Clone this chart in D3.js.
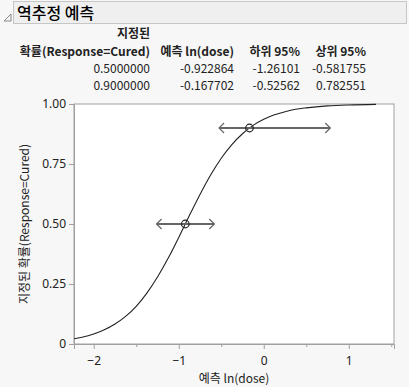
<!DOCTYPE html>
<html>
<head>
<meta charset="utf-8">
<script src="https://cdn.jsdelivr.net/npm/d3@7"></script>
<style>
  body { margin: 0; background: #f7f7f7; }
  text { font-family: "Noto Sans CJK KR", "Noto Sans", sans-serif; fill: #222; }
</style>
</head>
<body>
<svg id="chart" width="409" height="387"></svg>
<script>
// table values
const probs = ["0.5000000", "0.9000000"];
const predVals = [-0.922864, -0.167702];
const lowerVals = [-1.26101, -0.52562];
const upperVals = [-0.581755, 0.782551];
const pValues = [0.5, 0.9];

// fitted curve
const curveX = [-2.23, -2.125, -2, -1.875, -1.75, -1.625, -1.5, -1.375, -1.25, -1.125, -1, -0.875, -0.75, -0.625, -0.5, -0.375, -0.25, -0.125, 0, 0.125, 0.25, 0.375, 0.5, 0.75, 1, 1.32];
const curveP = [0.022, 0.029, 0.042, 0.059, 0.083, 0.115, 0.157, 0.212, 0.279, 0.357, 0.444, 0.535, 0.623, 0.704, 0.774, 0.831, 0.876, 0.911, 0.936, 0.955, 0.968, 0.978, 0.984, 0.992, 0.996, 0.9985];

const xTicks = [-2, -1, 0, 1];
const xMinor = [-1.5, -0.5, 0.5, 1.5];
const yTicks = [0, 0.25, 0.5, 0.75, 1];

const svg = d3.select("#chart");

// header bar
svg.append("rect").attr("x", 13.5).attr("y", 1.5).attr("width", 393).attr("height", 22)
  .attr("fill", "#efefef").attr("stroke", "#c6c6c6");
svg.append("path").attr("d", "M4,21 L11,14 L11,21 Z").attr("fill", "none").attr("stroke", "#888");
svg.append("text").attr("x", 17).attr("y", 18.5).attr("font-size", 16).attr("font-weight", 500)
  .style("fill", "#000").text("역추정 예측");

// table
const colRight = [150, 234, 300, 366];
const bold = "bold";
svg.append("text").attr("x", colRight[0]).attr("y", 38).attr("text-anchor", "end")
  .attr("font-size", 12).attr("font-weight", bold).text("지정된");
const heads = ["확률(Response=Cured)", "예측 ln(dose)", "하위 95%", "상위 95%"];
heads.forEach((h, i) => {
  svg.append("text").attr("x", colRight[i]).attr("y", 56).attr("text-anchor", "end")
    .attr("font-size", 12).attr("font-weight", bold).text(h);
});
probs.forEach((p, r) => {
  const row = [p, predVals[r].toFixed(6), String(lowerVals[r]), String(upperVals[r])];
  row.forEach((v, i) => {
    svg.append("text").attr("x", colRight[i]).attr("y", 73 + r * 17).attr("text-anchor", "end")
      .attr("font-size", 12).text(v);
  });
});

// plot
const pLeft = 74, pRight = 394, pTop = 104, pBottom = 344;
const x = d3.scaleLinear().domain([-2.232, 1.532]).range([pLeft, pRight]);
const y = d3.scaleLinear().domain([0, 1]).range([pBottom, pTop]);

svg.append("rect").attr("x", pLeft).attr("y", pTop).attr("width", pRight - pLeft).attr("height", pBottom - pTop)
  .attr("fill", "#fff").attr("stroke", "#a0a0a0");

const xAxis = svg.append("g").attr("transform", `translate(0,${pBottom})`)
  .call(d3.axisBottom(x).tickValues(xTicks).tickFormat(d3.format("d")).tickSize(5));
svg.append("g").attr("transform", `translate(0,${pBottom})`)
  .call(d3.axisBottom(x).tickValues(xMinor).tickFormat("").tickSize(3))
  .select(".domain").remove();
const yAxis = svg.append("g").attr("transform", `translate(${pLeft},0)`)
  .call(d3.axisLeft(y).tickValues(yTicks).tickFormat(d => d === 0 ? "0" : d3.format(".2f")(d)).tickSize(5));

svg.selectAll(".domain").attr("stroke", "#a0a0a0");
svg.selectAll(".tick line").attr("stroke", "#a0a0a0");
svg.selectAll(".tick text").attr("font-size", 12).attr("fill", "#222")
  .style("font-family", "'Noto Sans', sans-serif");
xAxis.selectAll(".tick text").attr("dy", "1.1em");

svg.append("text").attr("x", (pLeft + pRight) / 2).attr("y", 383).attr("text-anchor", "middle")
  .attr("font-size", 12).text("예측 ln(dose)");
svg.append("text").attr("transform", `translate(29,${(pTop + pBottom) / 2}) rotate(-90)`)
  .attr("text-anchor", "middle").attr("font-size", 12).text("지정된 확률(Response=Cured)");

// curve
const pts = curveX.map((v, i) => [v, curveP[i]]);
svg.append("path").datum(pts)
  .attr("d", d3.line().x(d => x(d[0])).y(d => y(d[1])).curve(d3.curveMonotoneX))
  .attr("fill", "none").attr("stroke", "#222").attr("stroke-width", 1.1);

// interval bars with arrows
pValues.forEach((p, i) => {
  const yy = y(p), x0 = x(lowerVals[i]), x1 = x(upperVals[i]);
  const g = svg.append("g").attr("stroke", "#666").attr("fill", "none");
  g.append("line").attr("x1", x0).attr("x2", x1).attr("y1", yy).attr("y2", yy).attr("stroke-width", 2);
  g.append("path").attr("d", `M${x0 + 5},${yy - 5} L${x0},${yy} L${x0 + 5},${yy + 5}`).attr("stroke-width", 1.2);
  g.append("path").attr("d", `M${x1 - 5},${yy - 5} L${x1},${yy} L${x1 - 5},${yy + 5}`).attr("stroke-width", 1.2);
  svg.append("circle").attr("cx", x(predVals[i])).attr("cy", yy).attr("r", 3.8)
    .attr("fill", "none").attr("stroke", "#222").attr("stroke-width", 1.2);
});
</script>
</body>
</html>
